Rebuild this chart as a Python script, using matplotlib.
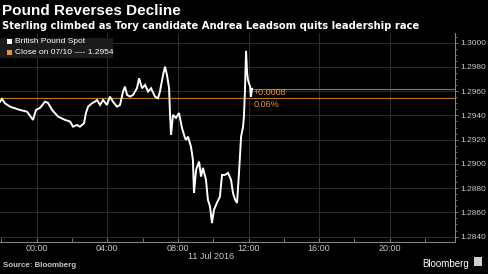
import matplotlib
matplotlib.use("Agg")
import matplotlib.pyplot as plt
from matplotlib.ticker import FixedLocator, MultipleLocator, FuncFormatter
from matplotlib.patches import Rectangle

plt.rcParams["font.family"] = ["Liberation Sans", "DejaVu Sans"]

# ── Data: GBP spot, hours relative to 00:00 on 11 Jul 2016 ──
hours = [
    -2.08, -1.97, -1.80, -1.51, -0.95, -0.55, -0.21, -0.04, 0.19, 0.47,
    0.64, 0.87, 1.21, 1.60, 1.89, 2.06, 2.28, 2.45, 2.68, 2.79,
    2.91, 3.02, 3.13, 3.30, 3.42, 3.59, 3.76, 3.98, 4.15, 4.32,
    4.55, 4.72, 4.89, 5.00, 5.12, 5.29, 5.46, 5.68, 5.80, 5.97,
    6.14, 6.31, 6.48, 6.70, 6.87, 6.98, 7.16, 7.27, 7.38, 7.50,
    7.55, 7.61, 7.72, 7.89, 8.06, 8.23, 8.40, 8.46, 8.57, 8.74,
    8.85, 8.91, 9.03, 9.20, 9.31, 9.42, 9.59, 9.70, 9.82, 9.93,
    10.04, 10.21, 10.38, 10.50, 10.67, 10.84, 11.01, 11.12, 11.24, 11.35,
    11.46, 11.58, 11.69, 11.74, 11.80, 11.86, 11.92, 11.97, 12.09, 12.14,
    12.20,
]
spot = [
    1.29513, 1.29536, 1.29500, 1.29472, 1.29445, 1.29431, 1.29363, 1.29445, 1.29462, 1.29513,
    1.29503, 1.29445, 1.29390, 1.29363, 1.29349, 1.29307, 1.29321, 1.29307, 1.29335, 1.29420,
    1.29472, 1.29486, 1.29500, 1.29513, 1.29527, 1.29486, 1.29527, 1.29486, 1.29555, 1.29513,
    1.29472, 1.29486, 1.29596, 1.29637, 1.29569, 1.29555, 1.29569, 1.29624, 1.29706, 1.29624,
    1.29651, 1.29596, 1.29624, 1.29555, 1.29541, 1.29596, 1.29734, 1.29802, 1.29734, 1.29624,
    1.29420, 1.29239, 1.29404, 1.29379, 1.29420, 1.29297, 1.29214, 1.29198, 1.29225, 1.29142,
    1.29033, 1.28760, 1.28950, 1.29019, 1.28895, 1.28967, 1.28868, 1.28703, 1.28647, 1.28511,
    1.28620, 1.28678, 1.28730, 1.28909, 1.28909, 1.28925, 1.28868, 1.28760, 1.28703, 1.28678,
    1.28925, 1.29225, 1.29307, 1.29390, 1.29610, 1.29932, 1.29750, 1.29692, 1.29637, 1.29555,
    1.29620,
]
prev_close = 1.2954
change_label = "+0.0008"
pct_label = "0.06%"
x_ticks = [0, 4, 8, 12, 16, 20]
x_labels = ["00:00", "04:00", "08:00", "12:00", "16:00", "20:00"]
y_ticks = [1.2840, 1.2860, 1.2880, 1.2900, 1.2920, 1.2940, 1.2960, 1.2980, 1.3000]

BG = "#000000"
GRID = "#2e2e2e"
AXIS = "#8a8a8a"
TEXT = "#c8c8c8"
ORANGE = "#e8962a"
LAST = "#a8741e"

fig = plt.figure(figsize=(4.88, 2.74), dpi=100)
fig.patch.set_facecolor(BG)
ax = fig.add_axes([0.0, 0.118, 0.9324, 0.7616])
ax.set_facecolor(BG)

ax.set_xlim(-2.08, 23.70)
ax.set_ylim(1.28358, 1.30080)

ax.xaxis.set_major_locator(FixedLocator(x_ticks))
ax.xaxis.set_minor_locator(MultipleLocator(2))
ax.set_xticklabels(x_labels)
ax.yaxis.set_major_locator(FixedLocator(y_ticks))
ax.yaxis.set_minor_locator(MultipleLocator(0.0005))
ax.yaxis.set_major_formatter(FuncFormatter(lambda v, p: f"{v:.4f}"))
ax.yaxis.tick_right()

ax.grid(True, which="major", color=GRID, linewidth=0.7)
ax.tick_params(axis="x", which="both", direction="in", colors=AXIS, labelcolor=TEXT,
               labelsize=6.5, pad=2, length=3, width=0.6)
ax.tick_params(axis="y", which="major", direction="out", colors=AXIS, labelcolor=TEXT,
               labelsize=6, pad=1.5, length=2, width=0.6)
ax.tick_params(axis="y", which="minor", direction="out", colors=AXIS, length=1.2, width=0.5)

for side in ("top", "left"):
    ax.spines[side].set_visible(False)
for side in ("bottom", "right"):
    ax.spines[side].set_color(AXIS)
    ax.spines[side].set_linewidth(0.7)

# close line and last price line
ax.axhline(prev_close, color=ORANGE, linewidth=0.8, alpha=0.8, zorder=2)
last = spot[-1]
ax.plot([hours[-1], 23.70], [last, last], color=LAST, linewidth=0.8, zorder=2)

ax.plot(hours, spot, color="white", linewidth=1.4, zorder=3, solid_joinstyle="miter")

ax.annotate(change_label, (hours[-1], last), xytext=(1.0, -2.5), textcoords="offset points",
            color=ORANGE, fontsize=6.5, va="center", ha="left")
ax.annotate(pct_label, (hours[-1], last), xytext=(1.0, -11), textcoords="offset points",
            color=ORANGE, fontsize=6.5, va="center", ha="left")

ax.text(9.9, -0.048, "11 Jul 2016", transform=ax.get_xaxis_transform(),
        ha="center", va="top", color=TEXT, fontsize=6.5)

# legend box
fig.patches.append(Rectangle((0.0, 0.790), 0.232, 0.071, transform=fig.transFigure,
                             facecolor="#1b1b1b", edgecolor="none", zorder=5))
fig.patches.append(Rectangle((0.014, 0.838), 0.011, 0.018, transform=fig.transFigure,
                             facecolor="white", edgecolor="none", zorder=6))
fig.patches.append(Rectangle((0.014, 0.800), 0.011, 0.018, transform=fig.transFigure,
                             facecolor=ORANGE, edgecolor="none", zorder=6))
fig.text(0.030, 0.847, "British Pound Spot", color="white", fontsize=6,
         va="center", ha="left", zorder=7)
fig.text(0.030, 0.809, f"Close on 07/10 ---- {prev_close:.4f}", color="white",
         fontsize=6, va="center", ha="left", zorder=7)

# titles
fig.text(0.004, 0.985, "Pound Reverses Decline", color="white", fontsize=11,
         fontweight="bold", va="top", ha="left")
fig.text(0.004, 0.925, "Sterling climbed as Tory candidate Andrea Leadsom quits leadership race",
         color="white", fontsize=7.2, fontweight="bold", va="top", ha="left",
         family="DejaVu Sans")

# footer
fig.text(0.006, 0.018, "Source: Bloomberg", color=TEXT, fontsize=5.7,
         fontweight="bold", va="bottom", ha="left")
fig.text(0.962, 0.018, "Bloomberg", color="white", fontsize=7, va="bottom", ha="right")
fig.patches.append(Rectangle((0.972, 0.028), 0.016, 0.033, transform=fig.transFigure,
                             facecolor="#d0d0d0", edgecolor="none"))

fig.savefig("out.png", dpi=100, facecolor=BG)
